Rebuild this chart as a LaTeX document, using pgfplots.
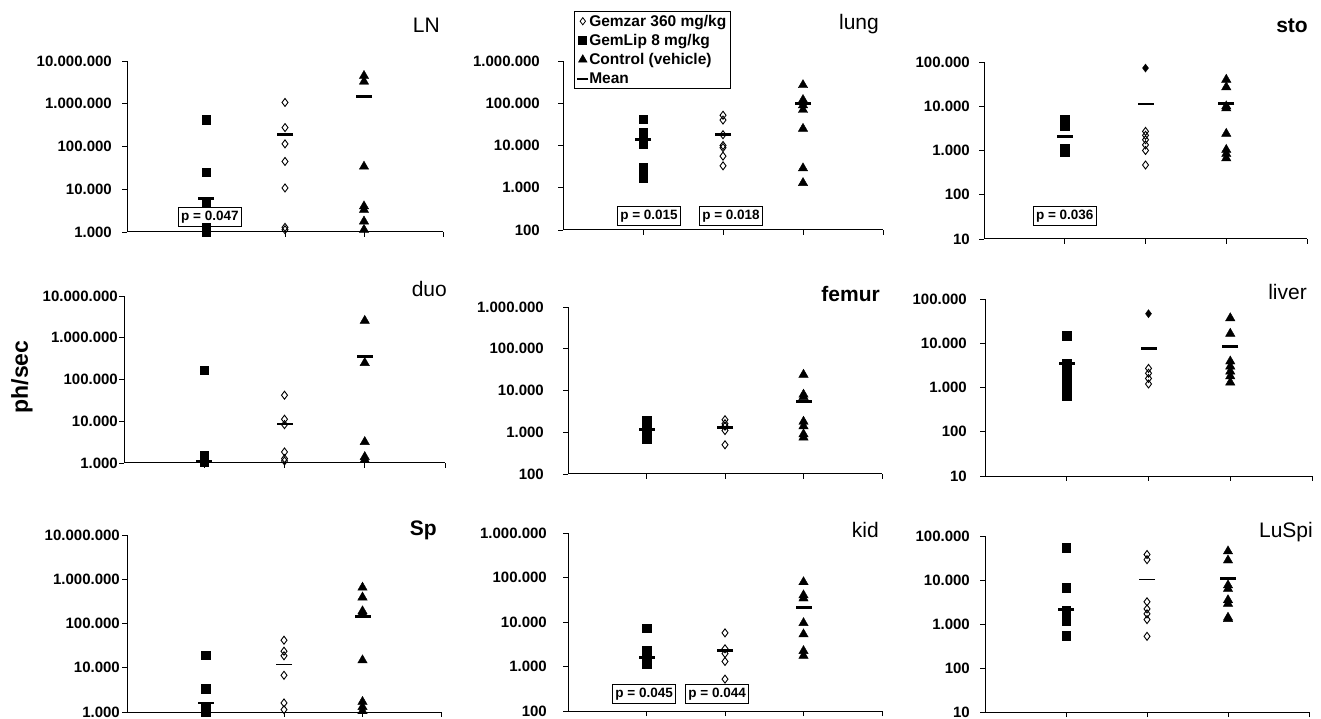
\documentclass[border=0pt]{standalone}
\usepackage{fontspec}
\setmainfont{Liberation Sans}
\usepackage{pgfplots}
\pgfplotsset{compat=1.18}
\pgfplotsset{
  panel/.style={
    scale only axis, anchor=south west, clip=false,
    xmin=0, xmax=4, xtick={1,2,3,4}, xticklabels={},
    yminorticks=false,
    axis lines*=left, axis line style={line width=1pt,-},
    tick align=outside, major tick length=5pt,
    tick style={black, line width=0.8pt},
    yticklabel style={font=\bfseries\fontsize{15}{15}\selectfont, inner sep=0pt},
  },
  ya/.style={ymin=1e3, ymax=1e7, ytick={1e3,1e4,1e5,1e6,1e7},
    yticklabels={1.000,10.000,100.000,1.000.000,10.000.000}},
  yb/.style={ymin=1e2, ymax=1e6, ytick={1e2,1e3,1e4,1e5,1e6},
    yticklabels={100,1.000,10.000,100.000,1.000.000}},
  yc/.style={ymin=1e1, ymax=1e5, ytick={1e1,1e2,1e3,1e4,1e5},
    yticklabels={10,100,1.000,10.000,100.000}},
  gl/.style={only marks, mark=square*, mark size=4.3, black},
  gz/.style={only marks, mark=diamond, mark size=4, black, mark options={line width=0.9pt}},
  gzf/.style={only marks, mark=diamond*, mark size=4, black},
  ct/.style={only marks, mark=triangle*, mark size=5.4, black},
  mn/.style={only marks, mark=-, mark size=8, black, mark options={line width=2.8pt}},
  mnt/.style={only marks, mark=-, mark size=8, black, mark options={line width=1.5pt}},
}
\tikzset{
  pbox/.style={draw=black, line width=0.8pt, font=\bfseries\fontsize{13.5}{13.5}\selectfont,
    inner xsep=3pt, minimum height=19pt},
}
\begin{document}
\begin{tikzpicture}[x=1pt,y=1pt]
\useasboundingbox (0,0) rectangle (1321,718);

% ---------- LN ----------
\begin{axis}[ymode=log, panel, ya, at={(127pt,486pt)}, width=316pt, height=171pt,
  yticklabel style={xshift=-10pt}]
\addplot[gl] coordinates {(1,420000)(1,25000)(1,4800)(1,1300)(1,1100)(1,1000)};
\addplot[gz] coordinates {(2,1070000)(2,277000)(2,115000)(2,44600)(2,10700)(2,1280)(2,1130)};
\addplot[ct] coordinates {(3,4500000)(3,3300000)(3,34000)(3,4000)(3,3300)(3,1770)(3,1130)};
\addplot[mn] coordinates {(1,6000)(2,194000)(3,1500000)};
\node[pbox, fill=white] at (axis cs:1.05,2240) {p = 0.047};
\end{axis}

% ---------- lung ----------
\begin{axis}[ymode=log, panel, yb, at={(563pt,488pt)}, width=320pt, height=169pt,
  yticklabel style={xshift=-18pt},
  legend style={at={(0.034,1.296)}, anchor=north west, draw=black, line width=0.8pt,
    font=\bfseries\fontsize{15.5}{15.5}\selectfont, inner xsep=3pt, inner ysep=2.5pt,
    row sep=4.5pt, nodes={inner sep=1pt}},
  legend cell align=left]
\addlegendimage{only marks, mark=diamond, mark size=3.6, black}
\addlegendentry{Gemzar 360 mg/kg}
\addlegendimage{only marks, mark=square*, mark size=4, black}
\addlegendentry{GemLip 8 mg/kg}
\addlegendimage{only marks, mark=triangle*, mark size=4.7, black}
\addlegendentry{Control (vehicle)}
\addlegendimage{only marks, mark=-, mark size=5.5, black, mark options={line width=1.8pt}}
\addlegendentry{Mean}
\addplot[gl, forget plot] coordinates {(1,42000)(1,20000)(1,14000)(1,11000)(1,3000)(1,2200)(1,1700)};
\addplot[gz, forget plot] coordinates {(2,52000)(2,40000)(2,18000)(2,10000)(2,8900)(2,5600)(2,3300)};
\addplot[ct, forget plot] coordinates {(3,270000)(3,120000)(3,90000)(3,70000)(3,25000)(3,2900)(3,1300)};
\addplot[mn, forget plot] coordinates {(1,14000)(2,18000)(3,100000)};
\node[pbox] at (axis cs:1.075,215) {p = 0.015};
\node[pbox] at (axis cs:2.1,215) {p = 0.018};
\end{axis}

% ---------- sto ----------
\begin{axis}[ymode=log, panel, yc, at={(984pt,479pt)}, width=323pt, height=177pt,
  yticklabel style={xshift=-9pt}]
\addplot[gl] coordinates {(1,5000)(1,4300)(1,3600)(1,1100)(1,950)};
\addplot[gz] coordinates {(2,2700)(2,2200)(2,1750)(2,1340)(2,1000)(2,470)};
\addplot[gzf] coordinates {(2,73000)};
\addplot[ct] coordinates {(3,40000)(3,27000)(3,10000)(3,9000)(3,2400)(3,1040)(3,840)(3,670)};
\addplot[mn] coordinates {(1,2100)(2,11200)(3,11500)};
\node[pbox] at (axis cs:1.0,33) {p = 0.036};
\end{axis}

% ---------- duo ----------
\begin{axis}[ymode=log, panel, ya, at={(124pt,255pt)}, width=321pt, height=167pt,
  yticklabel style={xshift=-1pt}]
\addplot[gl] coordinates {(1,167000)(1,1530)(1,1270)(1,1060)};
\addplot[gz] coordinates {(2,42000)(2,11200)(2,8300)(2,1840)(2,1270)(2,1120)};
\addplot[ct] coordinates {(3,2560000)(3,250000)(3,3200)(3,1400)(3,1200)};
\addplot[mn] coordinates {(1,1100)(3,350000)};
\addplot[mnt] coordinates {(2,8600)};
\end{axis}

% ---------- femur ----------
\begin{axis}[ymode=log, panel, yb, at={(568pt,244pt)}, width=314pt, height=167pt,
  yticklabel style={xshift=-19pt}]
\addplot[gl] coordinates {(1,1900)(1,1500)(1,1200)(1,1000)(1,800)(1,700)};
\addplot[gz] coordinates {(2,2000)(2,1600)(2,1400)(2,1100)(2,500)};
\addplot[ct] coordinates {(3,24000)(3,8000)(3,7000)(3,1800)(3,1400)(3,900)(3,750)};
\addplot[mn] coordinates {(1,1150)(2,1300)(3,5500)};
\end{axis}

% ---------- liver ----------
\begin{axis}[ymode=log, panel, yc, at={(985pt,242pt)}, width=327pt, height=177pt,
  yticklabel style={xshift=-13pt}]
\addplot[gl] coordinates {(1,15000)(1,3500)(1,2500)(1,1800)(1,1300)(1,1000)(1,630)};
\addplot[gz] coordinates {(2,2700)(2,2100)(2,1600)(2,1200)};
\addplot[gzf] coordinates {(2,46500)};
\addplot[ct] coordinates {(3,37000)(3,16500)(3,3900)(3,3000)(3,2300)(3,1800)(3,1300)};
\addplot[mn] coordinates {(1,3500)(2,7600)(3,8500)};
\end{axis}

% ---------- Sp ----------
\begin{axis}[ymode=log, panel, ya, at={(127pt,6pt)}, width=314pt, height=177pt,
  yticklabel style={xshift=-2pt}]
\addplot[gl] coordinates {(1,19200)(1,3400)(1,1300)(1,1100)(1,1000)};
\addplot[gz] coordinates {(2,42000)(2,23700)(2,18600)(2,6750)(2,1600)(2,1130)};
\addplot[ct] coordinates {(3,650000)(3,390000)(3,190000)(3,170000)(3,14800)(3,1700)(3,1300)(3,1050)};
\addplot[mn] coordinates {(1,1600)(3,147000)};
\addplot[mnt] coordinates {(2,12000)};
\end{axis}

% ---------- kid ----------
\begin{axis}[ymode=log, panel, yb, at={(568pt,7pt)}, width=314pt, height=178pt,
  yticklabel style={xshift=-16pt}]
\addplot[gl] coordinates {(1,7300)(1,2300)(1,1800)(1,1400)(1,1120)};
\addplot[gz] coordinates {(2,5700)(2,2500)(2,1950)(2,1300)(2,520)};
\addplot[ct] coordinates {(3,79000)(3,40000)(3,34000)(3,9500)(3,5300)(3,2240)(3,1750)};
\addplot[mn] coordinates {(1,1600)(2,2300)(3,21000)};
\node[pbox] at (axis cs:0.97,240) {p = 0.045};
\node[pbox] at (axis cs:1.9,240) {p = 0.044};
\end{axis}

% ---------- LuSpi ----------
\begin{axis}[ymode=log, panel, yc, at={(985pt,6pt)}, width=324pt, height=176pt,
  yticklabel style={xshift=-10pt}]
\addplot[gl] coordinates {(1,54000)(1,6600)(1,2000)(1,1600)(1,1200)(1,550)};
\addplot[gz] coordinates {(2,38000)(2,29000)(2,3200)(2,2200)(2,1700)(2,1260)(2,525)};
\addplot[ct] coordinates {(3,45000)(3,28000)(3,7600)(3,6300)(3,3500)(3,2900)(3,1400)(3,1300)};
\addplot[mn] coordinates {(1,2100)(3,10800)};
\addplot[mnt] coordinates {(2,10200)};
\end{axis}

% ---------- titles ----------
\begin{scope}[every node/.style={anchor=base east, inner sep=0pt}]
\node[font=\fontsize{21}{21}\selectfont] at (440,685) {LN};
\node[font=\fontsize{21}{21}\selectfont] at (879,688) {lung};
\node[font=\bfseries\fontsize{21}{21}\selectfont] at (1308,685) {sto};
\node[font=\fontsize{21}{21}\selectfont] at (447,421) {duo};
\node[font=\bfseries\fontsize{21}{21}\selectfont] at (880,416) {femur};
\node[font=\fontsize{21}{21}\selectfont] at (1307,418) {liver};
\node[font=\bfseries\fontsize{21}{21}\selectfont] at (437,183) {Sp};
\node[font=\fontsize{21}{21}\selectfont] at (879,181) {kid};
\node[font=\fontsize{21}{21}\selectfont] at (1313,181) {LuSpi};
\end{scope}
\node[rotate=90, font=\bfseries\fontsize{23}{23}\selectfont] at (22,341) {ph/sec};
\end{tikzpicture}
\end{document}
